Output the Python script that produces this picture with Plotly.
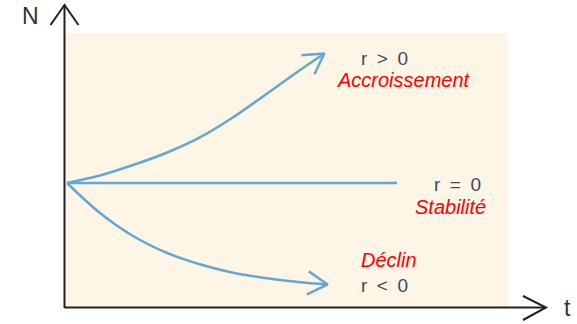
import math
import plotly.graph_objects as go

# ---- data ----
t_growth = [0, 1, 2, 3, 4, 5, 6, 7, 7.8]
n_growth = [100, 106.1, 114.6, 124.4, 136.6, 152.8, 171.5, 190.7, 205.3]

t_stable = [0, 10]
n_stable = [100, 100]

t_decline = [0, 1, 2, 3, 4, 5, 6, 7, 7.9]
n_decline = [100, 75.6, 56.9, 43.5, 34.1, 27.2, 22.8, 19.5, 17.5]

rate_labels = ["r\u2002>\u20020", "r\u2002=\u20020", "r\u2002<\u20020"]
trend_labels = ["Accroissement", "Stabilité", "Déclin"]
axis_labels = ["N", "t"]

# ---- layout geometry ----
W, H = 577, 324
T_PX, T0_PX = 33.0, 67.0      # pixels per unit of t, pixel of t=0
N_PX, N0_PX = 1.23, 306.0     # pixels per unit of N, pixel of N=0
x_range = [-T0_PX / T_PX, (W - T0_PX) / T_PX]
y_range = [(N0_PX - H) / N_PX, N0_PX / N_PX]

LINE = "#64a7d2"
AXIS = "#222222"
TXT = "#3b4a5b"
RED = "#ff0000"
FONT = "Liberation Sans, Arial, sans-serif"


def to_px(t, n):
    return T0_PX + t * T_PX, N0_PX - n * N_PX


def from_px(x, y):
    return (x - T0_PX) / T_PX, (N0_PX - y) / N_PX


def chevron(ts, ns, arm=23.0, half=30.0):
    tx, ty = to_px(ts[-1], ns[-1])
    px_, py_ = to_px(ts[-2], ns[-2])
    dx, dy = px_ - tx, py_ - ty
    L = math.hypot(dx, dy)
    dx, dy = dx / L, dy / L
    pts = []
    for s in (half, -half):
        a = math.radians(s)
        rx = dx * math.cos(a) - dy * math.sin(a)
        ry = dx * math.sin(a) + dy * math.cos(a)
        pts.append(from_px(tx + rx * arm, ty + ry * arm))
    xs = [pts[0][0], ts[-1], pts[1][0]]
    ys = [pts[0][1], ns[-1], pts[1][1]]
    return xs, ys


fig = go.Figure()

for ts, ns in [(t_growth, n_growth), (t_stable, n_stable), (t_decline, n_decline)]:
    fig.add_trace(go.Scatter(x=ts, y=ns, mode="lines",
                             line=dict(color=LINE, width=2.5, shape="spline", smoothing=1.0),
                             hoverinfo="skip", showlegend=False))

for ts, ns in [(t_growth, n_growth), (t_decline, n_decline)]:
    cx, cy = chevron(ts, ns)
    fig.add_trace(go.Scatter(x=cx, y=cy, mode="lines",
                             line=dict(color=LINE, width=2.5),
                             hoverinfo="skip", showlegend=False))


def px(x):
    return x / W


def py(y):
    return 1 - y / H


shapes = [
    # beige background panel
    dict(type="rect", xref="paper", yref="paper", x0=px(64), x1=px(508), y0=py(308), y1=py(33),
         fillcolor="#fdf6e7", line=dict(width=0), layer="below"),
    # y axis
    dict(type="line", xref="paper", yref="paper", x0=px(64.5), x1=px(64.5), y0=py(308), y1=py(5),
         line=dict(color=AXIS, width=2)),
    dict(type="path", xref="paper", yref="paper",
         path=f"M {px(50.5)},{py(25)} L {px(64.5)},{py(5)} L {px(78.5)},{py(25)}",
         line=dict(color=AXIS, width=2)),
    # x axis
    dict(type="line", xref="paper", yref="paper", x0=px(64.5), x1=px(546), y0=py(307.5), y1=py(307.5),
         line=dict(color=AXIS, width=2)),
    dict(type="path", xref="paper", yref="paper",
         path=f"M {px(523)},{py(296)} L {px(546)},{py(307.5)} L {px(523)},{py(320)}",
         line=dict(color=AXIS, width=2)),
]

ann = []


def label(text, x, y, color, size, italic=False):
    ann.append(dict(text=f"<i>{text}</i>" if italic else text, xref="paper", yref="paper",
                    x=px(x), y=py(y), xanchor="center", yanchor="middle", showarrow=False,
                    font=dict(family=FONT, size=size, color=color)))


label(rate_labels[0], 384, 58, TXT, 19)
label(trend_labels[0], 404, 80, RED, 20, italic=True)
label(rate_labels[1], 457, 184, TXT, 19)
label(trend_labels[1], 450, 207, RED, 20, italic=True)
label(trend_labels[2], 389, 260, RED, 20, italic=True)
label(rate_labels[2], 384, 285, TXT, 19)
label(axis_labels[0], 30.5, 16, "#333333", 23)
label(axis_labels[1], 567, 308, "#333333", 23)

fig.update_layout(
    width=W, height=H,
    margin=dict(l=0, r=0, t=0, b=0, pad=0),
    paper_bgcolor="white", plot_bgcolor="rgba(0,0,0,0)",
    xaxis=dict(range=x_range, visible=False, fixedrange=True),
    yaxis=dict(range=y_range, visible=False, fixedrange=True),
    shapes=shapes, annotations=ann, showlegend=False,
)

fig.write_html("out.html", config={"displayModeBar": False},
               post_script="document.body.style.margin='0';document.body.style.overflow='hidden';")
